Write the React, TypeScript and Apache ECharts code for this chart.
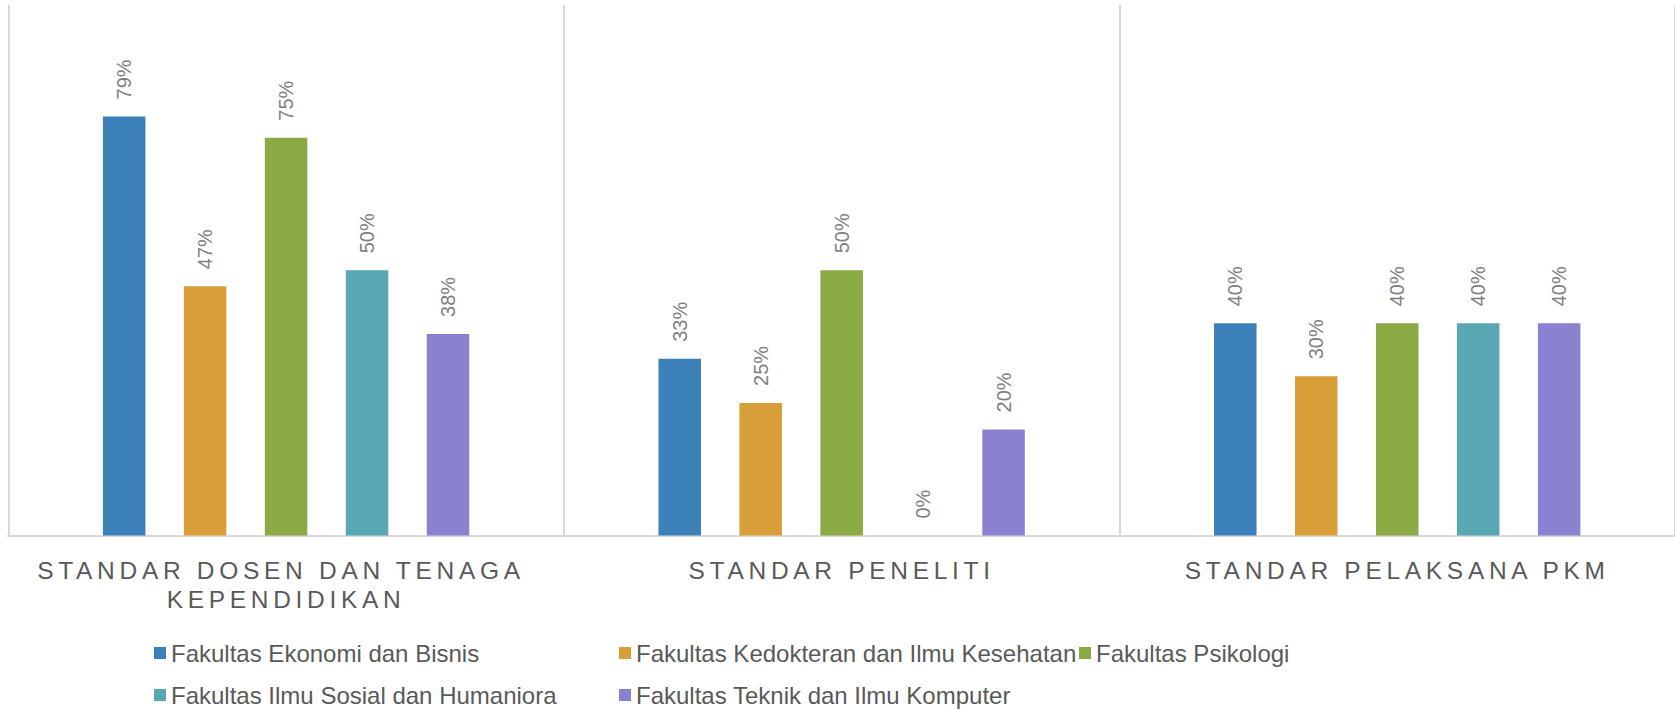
import React, { useEffect, useRef } from "react";
import * as echarts from "echarts";

const categories = [
  "STANDAR DOSEN DAN TENAGA KEPENDIDIKAN",
  "STANDAR PENELITI",
  "STANDAR PELAKSANA PKM",
];
const seriesNames = [
  "Fakultas Ekonomi dan Bisnis",
  "Fakultas Kedokteran dan Ilmu Kesehatan",
  "Fakultas Psikologi",
  "Fakultas Ilmu Sosial dan Humaniora",
  "Fakultas Teknik dan Ilmu Komputer",
];
const ekonomi = [79, 33.3, 40];
const kedokteran = [47, 25, 30];
const psikologi = [75, 50, 40];
const sosial = [50, 0, 40];
const teknik = [38, 20, 40];
const seriesValues = [ekonomi, kedokteran, psikologi, sosial, teknik];
const colors = ["#3B80B9", "#D79E39", "#8BAA44", "#5AA7B4", "#8A82D0"];

// legend placement (icon left x, row center y)
const legendPos = [
  [154, 654],
  [619, 654],
  [1079, 654],
  [154, 696],
  [619, 696],
];

const FONT = '"Liberation Sans", Arial, Helvetica, sans-serif';

export default function App() {
  const ref = useRef<HTMLDivElement>(null);
  useEffect(() => {
    document.body.style.margin = "0";
    const el = ref.current!;
    const chart = echarts.init(el, undefined, { renderer: "svg" });
    const legendFont = 24;
    chart.setOption({
      animation: false,
      backgroundColor: "#ffffff",
      textStyle: { fontFamily: FONT },
      grid: { left: 8.3, top: 5, width: 1669, height: 530.5, containLabel: false },
      xAxis: {
        type: "category",
        data: categories,
        boundaryGap: true,
        axisTick: { show: false },
        axisLine: { lineStyle: { color: "#D9D9D9", width: 2 } },
        splitLine: { show: true, lineStyle: { color: "#D9D9D9", width: 2 } },
        axisLabel: {
          interval: 0,
          color: "#595959",
          fontSize: 24.5,
          lineHeight: 29,
          margin: 20,
          fontFamily: FONT,
          width: 440,
          overflow: "break",
        },
      },
      yAxis: {
        type: "value",
        min: 0,
        max: 100,
        show: false,
        splitLine: { show: false },
      },
      legend: seriesNames.map((n, i) => ({
        data: [n],
        left: legendPos[i][0],
        top: legendPos[i][1] - legendFont / 2 - 1,
        padding: 0,
        itemGap: 0,
        itemWidth: 12,
        itemHeight: 12,
        icon: "rect",
        selectedMode: false,
        textStyle: { color: "#595959", fontSize: legendFont, fontFamily: FONT },
      })),
      series: seriesNames.map((n, i) => ({
        name: n,
        type: "bar",
        data: seriesValues[i],
        barWidth: 42.5,
        barGap: "90.5%",
        itemStyle: { color: colors[i] },
        label: {
          show: true,
          position: "top",
          rotate: 90,
          align: "left",
          verticalAlign: "middle",
          distance: 17,
          color: "#7F7F7F",
          fontSize: 20,
          fontFamily: FONT,
          formatter: (p: any) => Math.round(p.value) + "%",
        },
      })),
    });
    const applySpacing = () => {
      el.querySelectorAll("text").forEach((t) => {
        const s = (t.textContent || "").trim();
        if (/^[A-Z ]+$/.test(s) && s.length > 5) {
          (t as SVGTextElement).style.letterSpacing = "4.7px";
        }
      });
    };
    applySpacing();
    chart.on("finished", applySpacing);
    return () => {
      chart.dispose();
    };
  }, []);
  return (
    <div
      ref={ref}
      style={{ position: "absolute", left: 0, top: 0, width: 1675, height: 709 }}
    />
  );
}
